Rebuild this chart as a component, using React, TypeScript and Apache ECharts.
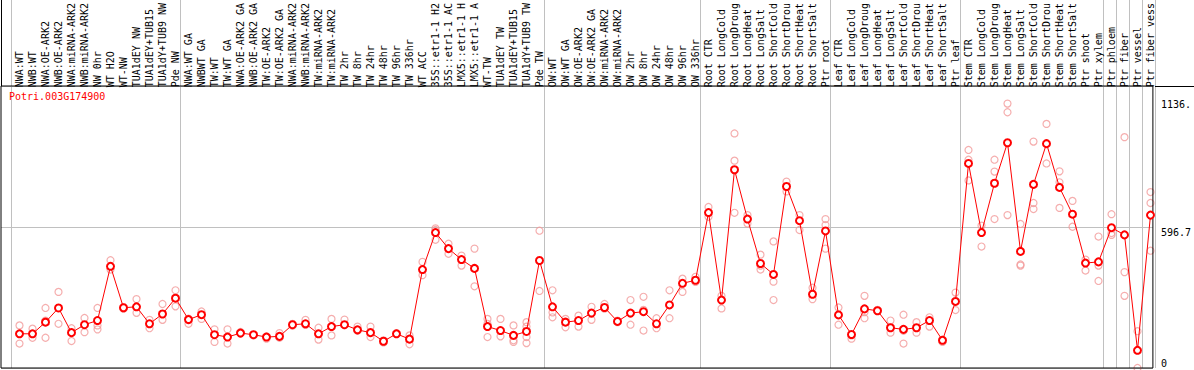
import React, { useEffect, useRef } from 'react';
import * as echarts from 'echarts';

const chartTitle = 'Potri.003G174900';

const categories = [
  'NWA:WT', 'NWB:WT', 'NWA:OE-ARK2', 'NWB:OE-ARK2', 'NWA:miRNA-ARK2', 'NWB:miRNA-ARK2', 'NW 0hr', 'WT H2O', 'WT-NW',
  'TUA1dEY NW', 'TUA1dEY+TUB15', 'TUA1dY+TUB9 NW', 'Pde NW',
  'NWA:WT GA', 'NWBWT GA', 'TW:WT', 'TW:WT GA', 'NWA:OE-ARK2 GA', 'NWB:OE-ARK2 GA', 'TW:OE-ARK2', 'TW:OE-ARK2 GA',
  'NWA:miRNA-ARK2', 'NWB:miRNA-ARK2', 'TW:miRNA-ARK2', 'TW:miRNA-ARK2', 'TW 2hr', 'TW 8hr', 'TW 24hr', 'TW 48hr',
  'TW 96hr', 'TW 336hr', 'WT ACC', '35S::etr1-1 H2', '35S::etr1-1 AC', 'LMX5::etr1-1 H', 'LMX5::etr1-1 A', 'WT-TW',
  'TUA1dEY TW', 'TUA1dEY+TUB15', 'TUA1dY+TUB9 TW', 'Pde TW',
  'OW:WT', 'OW:WT GA', 'OW:OE-ARK2', 'OW:OE-ARK2 GA', 'OW:miRNA-ARK2', 'OW:miRNA-ARK2', 'OW 2hr', 'OW 8hr',
  'OW 24hr', 'OW 48hr', 'OW 96hr', 'OW 336hr',
  'Root CTR', 'Root LongCold', 'Root LongDroug', 'Root LongHeat', 'Root LongSalt', 'Root ShortCold', 'Root ShortDrou',
  'Root ShortHeat', 'Root ShortSalt', 'Ptr root',
  'Leaf CTR', 'Leaf LongCold', 'Leaf LongDroug', 'Leaf LongHeat', 'Leaf LongSalt', 'Leaf ShortCold', 'Leaf ShortDrou',
  'Leaf ShortHeat', 'Leaf ShortSalt', 'Ptr leaf',
  'Stem CTR', 'Stem LongCold', 'Stem LongDroug', 'Stem LongHeat', 'Stem LongSalt', 'Stem ShortCold', 'Stem ShortDrou',
  'Stem ShortHeat', 'Stem ShortSalt', 'Ptr shoot', 'Ptr xylem',
  'Ptr phloem', 'Ptr fiber', 'Ptr vessel', 'Ptr fiber vess',
];

const means = [
  147, 147, 197, 258, 152, 186, 204, 437, 259, 263, 190, 232, 300,
  208, 229, 143, 133, 150, 143, 133, 136, 186, 190, 147, 178, 186, 164, 152, 115, 147, 124, 423, 582, 513, 466, 428,
  178, 161, 140, 157, 462,
  263, 197, 204, 236, 260, 200, 236, 242, 190, 271, 364, 377,
  668, 292, 852, 640, 449, 402, 780, 633, 317, 589,
  228, 144, 254, 246, 173, 166, 173, 204, 119, 286,
  879, 582, 794, 968, 501, 789, 964, 776, 661, 451, 456,
  603, 572, 76, 657,
];

const replicates: number[][] = [
  [183, 105], [169, 130], [258, 130, 204], [327, 190], [171, 116], [215, 154], [258, 166, 183], [463, 423],
  [255, 262], [296, 237], [207, 171], [275, 207], [334, 265],
  [190, 212], [243, 211], [166, 112], [166, 105], [150, 155], [143, 140], [126, 136], [150, 130], [190, 182],
  [207, 185], [173, 122], [211, 140], [208, 184], [178, 160], [178, 133], [119, 110], [150], [140, 102],
  [456, 399], [600, 593, 551], [534, 491], [483, 440], [513, 351], [211, 133, 190], [211, 136], [183, 119, 112],
  [197, 178, 133, 107], [590, 331],
  [334, 239, 218], [211, 175], [225, 178], [263, 207], [275, 255], [203, 197], [292, 186], [306, 161, 250],
  [214, 171], [334, 214], [384, 327], [392, 370],
  [692, 650], [310, 256], [1008, 891, 667], [657, 621], [487, 423, 440], [544, 371, 292], [801, 759], [657, 593],
  [345, 296], [640, 614, 513],
  [260, 186], [126, 140], [310, 214, 240], [246, 250], [204, 152], [229, 105, 160], [197, 152], [218, 178],
  [112, 122], [324, 249],
  [937, 895, 806], [612, 522], [895, 844, 640], [1136.3, 1099, 657], [619, 445, 440], [973, 709, 683],
  [1049, 879], [845, 798, 688], [718, 607], [466, 419], [565, 440, 374],
  [661, 572, 580], [992, 412, 310], [158, 0], [756, 709, 504],
];

const groupStarts = [0, 13, 41, 53, 63, 73, 84, 85, 86, 87];
const axisMax = 1193.4;
const midTick = 596.7;
const topTick = 1136.3;

export default function App() {
  const ref = useRef<HTMLDivElement>(null);
  useEffect(() => {
    const el = ref.current;
    if (!el) return;
    const chart = echarts.init(el, undefined, { renderer: 'svg' });
    const font = "'DejaVu Sans Mono', monospace";
    const repData = replicates.flatMap((vals, i) => vals.map((v) => [i, v]));
    chart.setOption({
      animation: false,
      backgroundColor: '#ffffff',
      title: {
        text: chartTitle,
        left: 9,
        top: 91,
        padding: 0,
        textStyle: { fontFamily: font, fontSize: 10, fontWeight: 'normal', color: '#ff0000' },
        z: 5,
      },
      grid: [
        { left: 13, right: 37, top: 87, bottom: 2, containLabel: false },
        { left: 1, right: 39, top: 86, bottom: 2, show: true, borderColor: '#000000', borderWidth: 1, backgroundColor: 'transparent', z: 3 },
        { left: 11, right: 39, top: 0, bottom: 2 },
      ],
      xAxis: [
        {
          gridIndex: 0,
          type: 'category',
          data: categories,
          position: 'top',
          boundaryGap: true,
          axisLine: { show: false },
          axisTick: { show: false },
          splitLine: { show: false },
          axisLabel: {
            interval: 0,
            rotate: 90,
            margin: 3,
            hideOverlap: false,
            fontFamily: font,
            fontSize: 10,
            color: '#000000',
          },
        },
        {
          gridIndex: 1,
          type: 'category',
          data: categories,
          show: false,
        },
        {
          gridIndex: 2,
          type: 'category',
          data: categories,
          boundaryGap: true,
          z: 0,
          axisLine: { show: false },
          axisTick: { show: false },
          axisLabel: { show: false },
          splitLine: {
            show: true,
            interval: (index: number) => groupStarts.includes(index),
            lineStyle: { color: '#c0c0c0', width: 1 },
          },
        },
      ],
      yAxis: [
        { gridIndex: 0, type: 'value', min: 0, max: axisMax, show: false },
        {
          gridIndex: 1,
          type: 'value',
          min: 0,
          max: axisMax,
          interval: midTick,
          position: 'right',
          axisLine: { show: false },
          axisTick: { show: false },
          splitLine: { show: true, lineStyle: { color: '#c0c0c0', width: 1 } },
          axisLabel: {
            customValues: [0],
            margin: 8,
            verticalAlign: 'bottom',
            fontFamily: font,
            fontSize: 10,
            color: '#000000',
            formatter: () => '0',
          },
        },
        {
          gridIndex: 1,
          type: 'value',
          min: 0,
          max: axisMax,
          position: 'right',
          axisLine: { show: false },
          axisTick: { show: false },
          splitLine: { show: false },
          axisLabel: {
            customValues: [midTick, topTick],
            margin: 8,
            verticalAlign: 'top',
            fontFamily: font,
            fontSize: 10,
            color: '#000000',
            formatter: (v: number) => (v > 1000 ? String(Math.floor(v)) + '.' : v.toFixed(1)),
          },
        },
        { gridIndex: 2, type: 'value', min: 0, max: axisMax, show: false },
      ],
      graphic: [
        { type: 'line', shape: { x1: 1155, y1: 86.5, x2: 1194, y2: 86.5 }, style: { stroke: '#000000', lineWidth: 1 }, z: 10 },
        { type: 'line', shape: { x1: 1.5, y1: 0, x2: 1.5, y2: 86 }, style: { stroke: '#000000', lineWidth: 1 }, z: 10 },
      ],
      series: [
        {
          name: 'replicates',
          type: 'scatter',
          xAxisIndex: 0,
          yAxisIndex: 0,
          data: repData,
          symbol: 'circle',
          symbolSize: 7,
          itemStyle: { color: 'rgba(0,0,0,0)', borderColor: '#f29a9a', borderWidth: 1.2 },
          z: 2,
          silent: true,
        },
        {
          name: 'mean',
          type: 'line',
          xAxisIndex: 0,
          yAxisIndex: 0,
          data: means,
          symbol: 'emptyCircle',
          symbolSize: 7,
          lineStyle: { color: '#ff0000', width: 1 },
          itemStyle: { color: '#ff0000', borderColor: '#ff0000', borderWidth: 1.5 },
          z: 3,
          silent: true,
        },
      ],
    });
    return () => chart.dispose();
  }, []);
  return (
    <div
      ref={ref}
      style={{ position: 'fixed', left: 0, top: 0, width: 1194, height: 370, background: '#ffffff' }}
    />
  );
}
